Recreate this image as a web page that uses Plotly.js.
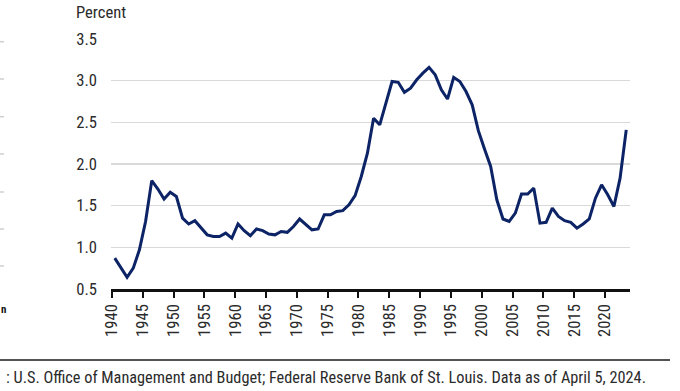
<!DOCTYPE html>
<html>
<head>
<meta charset="utf-8">
<script src="https://cdn.plot.ly/plotly-3.0.1.min.js"></script>
<style>
  html, body { margin: 0; padding: 0; background: #fff; }
  #chart { width: 680px; height: 391px; }
</style>
</head>
<body>
<div id="chart"></div>
<script>
// Fiscal years
const years = [];
for (let y = 1940; y <= 2023; y++) years.push(y);

// Net interest, percent
const values = [
  0.87, 0.76, 0.64, 0.75, 0.97, 1.31, 1.80, 1.70, 1.58, 1.66,
  1.61, 1.35, 1.28, 1.32, 1.23, 1.15, 1.13, 1.13, 1.17, 1.11,
  1.28, 1.20, 1.14, 1.22, 1.20, 1.16, 1.15, 1.19, 1.18, 1.25,
  1.34, 1.27, 1.21, 1.22, 1.39, 1.39, 1.43, 1.44, 1.51, 1.62,
  1.85, 2.13, 2.55, 2.47, 2.73, 2.99, 2.98, 2.86, 2.91, 3.01,
  3.09, 3.16, 3.07, 2.89, 2.78, 3.04, 2.99, 2.87, 2.71, 2.40,
  2.18, 1.97, 1.57, 1.34, 1.31, 1.41, 1.64, 1.64, 1.71, 1.29,
  1.30, 1.47, 1.37, 1.32, 1.30, 1.23, 1.28, 1.34, 1.59, 1.75,
  1.63, 1.49, 1.83, 2.41
];

const yTitle = "Percent";
// the reference crops the start of this line ("Source") at the left edge
const sourceText = ": U.S. Office of Management and Budget; Federal Reserve Bank of St. Louis. Data as of April 5, 2024.";

const FONT = "'Roboto Condensed', 'Liberation Sans Narrow', 'DejaVu Sans Condensed', 'Arial Narrow', sans-serif";
const TXT = "#2b2b2b";
const FS = 16.6;

// plot area geometry helpers (paper coords)
const L = 111, R = 630, T = 39, B = 289;
const px = x => (x - L) / (R - L);
const py = y => (B - y) / (B - T);

const leftMarksY = [41.7, 79, 116.7, 154, 192, 229, 266];
const shapes = leftMarksY.map(y => ({
  type: 'line', xref: 'paper', yref: 'paper',
  x0: px(0), x1: px(4), y0: py(y), y1: py(y),
  line: { color: '#cfcfcf', width: 1.5 }
}));
shapes.push({
  type: 'line', xref: 'paper', yref: 'paper',
  x0: px(0), x1: px(670), y0: py(360), y1: py(360),
  line: { color: '#1a1a1a', width: 1.6 }
});

const trace = {
  x: years, y: values, type: 'scatter', mode: 'lines',
  line: { color: '#0c2366', width: 3 },
  hoverinfo: 'skip'
};

const layout = {
  width: 680, height: 391,
  margin: { l: L, r: 680 - R, t: T, b: 391 - B, pad: 0 },
  paper_bgcolor: '#fff', plot_bgcolor: '#fff',
  showlegend: false,
  font: { family: FONT, size: FS, color: TXT },
  xaxis: {
    // ticks sit slightly ahead of the yearly points, as in the reference
    range: [1939.39, 2023.61],
    tick0: 1939.55, dtick: 5, tickformat: 'd',
    tickangle: -90,
    showgrid: false, zeroline: false,
    showline: true, linecolor: '#111', linewidth: 2.5,
    ticks: 'outside', ticklen: 6, tickwidth: 2, tickcolor: '#111',
    tickfont: { family: FONT, size: FS, color: TXT },
    fixedrange: true
  },
  yaxis: {
    range: [0.5, 3.5],
    tick0: 0.5, dtick: 0.5, tickformat: '.1f',
    showgrid: true, gridcolor: '#d9d9d9', gridwidth: 1.5,
    zeroline: false, showline: false, ticks: '',
    ticklabelstandoff: 13,
    tickfont: { family: FONT, size: FS, color: TXT },
    fixedrange: true
  },
  shapes: shapes,
  annotations: [
    {
      text: yTitle, xref: 'paper', yref: 'paper',
      x: px(74), y: py(24), xanchor: 'left', yanchor: 'bottom',
      showarrow: false, font: { family: FONT, size: FS, color: TXT }
    },
    {
      text: sourceText, xref: 'paper', yref: 'paper',
      x: px(648), y: py(366), xanchor: 'right', yanchor: 'top',
      showarrow: false, font: { family: FONT, size: 16.3, color: TXT }
    },
    {
      text: 'n', xref: 'paper', yref: 'paper',
      x: px(-1), y: py(301), xanchor: 'left', yanchor: 'top',
      showarrow: false, font: { family: FONT, size: 11, color: '#111', weight: 'bold' }
    }
  ]
};

Plotly.newPlot('chart', [trace], layout, { displayModeBar: false, staticPlot: true });
</script>
</body>
</html>
